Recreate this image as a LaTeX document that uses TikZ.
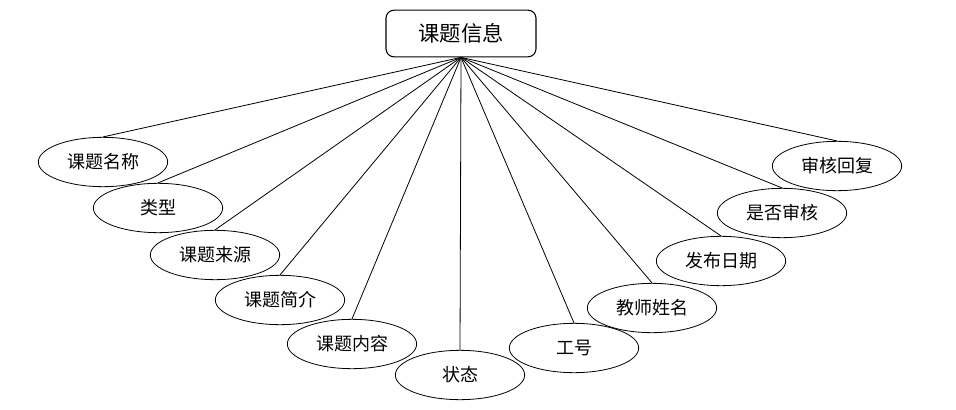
\documentclass[tikz,border=0pt]{standalone}
\usepackage{fontspec}
\setmainfont{Noto Sans CJK SC}
\usetikzlibrary{shapes.geometric}

\begin{document}
\begin{tikzpicture}[x=0.75pt, y=-0.75pt,
	entity/.style={shape=rectangle, draw, rounded corners=6pt, line width=0.8pt, minimum width=112.5pt, minimum height=35pt, inner sep=0pt, font=\fontsize{16}{18}\selectfont},
	attr/.style={shape=ellipse, draw, line width=0.6pt, minimum width=97pt, minimum height=37pt, inner sep=0pt, font=\fontsize{13.5}{16}\selectfont}]
	\useasboundingbox (0, 0) rectangle (956, 410);
	% Entity and attributes:
	\node[entity] (topic) at (461, 33.5){课题信息};
	\node[attr] (tname) at (103, 162){课题名称};
	\node[attr] (ttype) at (158, 208){类型};
	\node[attr] (tsource) at (215, 255){课题来源};
	\node[attr] (tintro) at (280, 300){课题简介};
	\node[attr] (tcontent) at (352, 344){课题内容};
	\node[attr] (tstate) at (460, 375){状态};
	\node[attr] (tid) at (574, 348){工号};
	\node[attr] (tteacher) at (652, 308){教师姓名};
	\node[attr] (tdate) at (721, 261){发布日期};
	\node[attr] (tcheck) at (782, 213){是否审核};
	\node[attr] (treply) at (837, 166){审核回复};
	% Connectors:
	\draw[line width=0.6pt] (topic.south) -- (tname.north);
	\draw[line width=0.6pt] (topic.south) -- (ttype.north);
	\draw[line width=0.6pt] (topic.south) -- (tsource.north);
	\draw[line width=0.6pt] (topic.south) -- (tintro.north);
	\draw[line width=0.6pt] (topic.south) -- (tcontent.north);
	\draw[line width=0.6pt] (topic.south) -- (tstate.north);
	\draw[line width=0.6pt] (topic.south) -- (tid.north);
	\draw[line width=0.6pt] (topic.south) -- (tteacher.north);
	\draw[line width=0.6pt] (topic.south) -- (tdate.north);
	\draw[line width=0.6pt] (topic.south) -- (tcheck.north);
	\draw[line width=0.6pt] (topic.south) -- (treply.north);
\end{tikzpicture}
\end{document}
